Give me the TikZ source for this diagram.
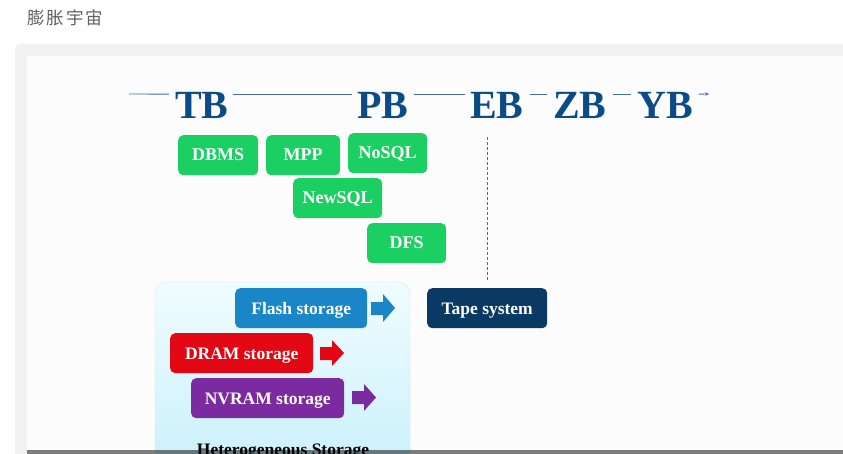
\documentclass[tikz,border=0pt]{standalone}
\usepackage{fontspec}
\setmainfont{Liberation Serif}
\newfontfamily\cjkfont{Noto Sans CJK SC}
\usetikzlibrary{arrows.meta}
\definecolor{tbblue}{RGB}{11,76,136}
\definecolor{tline}{RGB}{70,110,165}
\definecolor{boxgreen}{RGB}{27,207,98}
\definecolor{flashblue}{RGB}{26,134,200}
\definecolor{dramred}{RGB}{227,6,19}
\definecolor{nvpurple}{RGB}{123,42,160}
\definecolor{tapeblue}{RGB}{10,58,100}
\definecolor{paneltop}{RGB}{240,252,255}
\definecolor{panelbot}{RGB}{200,240,251}
\definecolor{panelline}{RGB}{205,235,242}
\definecolor{pagegray}{RGB}{242,242,242}
\tikzset{
  unit/.style={font=\fontsize{40}{40}\selectfont\bfseries, text=tbblue, inner sep=0pt, anchor=base west},
  tl/.style={draw=tline, line width=0.9pt},
  gbox/.style={fill=boxgreen, rounded corners=5pt, text=white, font=\fontsize{18}{18}\selectfont\bfseries, inner sep=0pt, text height=11pt, text depth=0pt, anchor=north west},
  sbox/.style={rounded corners=5pt, text=white, font=\fontsize{17.5}{17.5}\selectfont\bfseries, inner sep=0pt, text height=12pt, text depth=0pt, anchor=north west},
}
\begin{document}
\begin{tikzpicture}[x=1pt,y=-1pt]
\useasboundingbox (0,0) rectangle (843,454);
\fill[white] (0,0) rectangle (843,454);
% page frame
\node[anchor=west, inner sep=0pt, text=black!62, font=\cjkfont\fontsize{17.5}{17.5}\selectfont] (title) at (27,18) {膨\hspace{2pt}胀\hspace{2pt}宇\hspace{2pt}宙};
\fill[pagegray, rounded corners=5pt] (15,44) rectangle (860,470);
\fill[white!99!black] (27,56) rectangle (843,454);

% timeline units
\node[unit] (tb) at (175,119) {TB};
\node[unit] (pb) at (357,119) {PB};
\node[unit] (eb) at (470,119) {EB};
\node[unit] (zb) at (553,119) {ZB};
\node[unit] (yb) at (637,119) {YB};
\coordinate (tstart) at (129,94);
\coordinate (tend) at (709,94);
\draw[tl] (tstart) -- ([xshift=-6pt,yshift=-1.5pt]tb.north west);
\draw[tl] ([xshift=4pt,yshift=-1.5pt]tb.north east) -- ([xshift=-5pt,yshift=-1.5pt]pb.north west);
\draw[tl] ([xshift=5pt,yshift=-1.5pt]pb.north east) -- ([xshift=-5pt,yshift=-1.5pt]eb.north west);
\draw[tl] ([xshift=6pt,yshift=-1.5pt]eb.north east) -- ([xshift=-6pt,yshift=-1.5pt]zb.north west);
\draw[tl] ([xshift=6pt,yshift=-1.5pt]zb.north east) -- ([xshift=-6pt,yshift=-1.5pt]yb.north west);
\draw[tl, -{Stealth[length=4pt,width=3.5pt]}] ([xshift=6pt,yshift=-1.5pt]yb.north east) -- (tend);

% green boxes
\node[gbox, minimum width=80pt, minimum height=40pt] (dbms) at (178,135) {DBMS};
\node[gbox, minimum width=74pt, minimum height=40pt] (mpp) at (266,135) {MPP};
\node[gbox, minimum width=79pt, minimum height=40pt] (nosql) at (348,133) {NoSQL};
\node[gbox, minimum width=89pt, minimum height=40pt] (newsql) at (293,178) {NewSQL};
\node[gbox, minimum width=79pt, minimum height=40pt] (dfs) at (367,223) {DFS};

% dashed line from EB down to tape system
\coordinate (dtop) at (487,137);
\coordinate (dbot) at (487,282);
\draw[tline, line width=1pt, dash pattern=on 3pt off 2pt] (dtop) -- (dbot);

% heterogeneous storage panel
\shade[top color=paneltop, bottom color=panelbot, rounded corners=12pt, draw=panelline] (155,282) rectangle (410,480);
\node[sbox, fill=flashblue, minimum width=132pt, minimum height=40pt] (flash) at (235,288) {Flash storage};
\node[sbox, fill=dramred, minimum width=143pt, minimum height=40pt] (dram) at (170,333) {DRAM storage};
\node[sbox, fill=nvpurple, minimum width=153pt, minimum height=40pt] (nvram) at (191,378) {NVRAM storage};
\node[sbox, fill=tapeblue, minimum width=120pt, minimum height=40pt] (tape) at (427,288) {Tape system};

% block arrows
\fill[flashblue] (371,302) -- (383,302) -- (383,294) -- (395,308) -- (383,322) -- (383,315) -- (371,315) -- cycle;
\fill[dramred] (320,347) -- (332,347) -- (332,340) -- (344,353) -- (332,366) -- (332,360) -- (320,360) -- cycle;
\fill[nvpurple] (352,391) -- (364,391) -- (364,384) -- (376,397.5) -- (364,411) -- (364,404) -- (352,404) -- cycle;

\node[anchor=base, inner sep=0pt, font=\fontsize{17.5}{17.5}\selectfont\bfseries] (hetero) at (283,455) {Heterogeneous Storage};

% bottom bar
\fill[black, opacity=0.5] (27,450) rectangle (843,454);
\end{tikzpicture}
\end{document}
